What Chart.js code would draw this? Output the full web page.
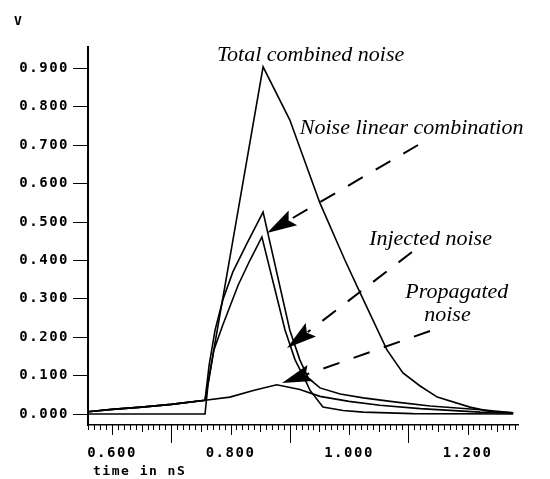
<!DOCTYPE html>
<html><head><meta charset="utf-8">
<script src="https://cdn.jsdelivr.net/npm/chart.js@4"></script>
<style>html,body{margin:0;padding:0;background:#fff;}</style>
</head><body>
<canvas id="c" width="550" height="479"></canvas>
<script>
// ---- data (time in ns, voltage in V) ----
const totalTime = [0.559, 0.600, 0.650, 0.700, 0.757, 0.803, 0.855, 0.900, 0.951, 0.993, 1.019, 1.064, 1.091, 1.120, 1.149, 1.204, 1.243, 1.277];
const totalV    = [0.006, 0.012, 0.018, 0.025, 0.036, 0.443, 0.904, 0.766, 0.549, 0.401, 0.315, 0.167, 0.107, 0.073, 0.044, 0.018, 0.005, 0.003];

const linTime = [0.559, 0.600, 0.650, 0.700, 0.757, 0.764, 0.774, 0.787, 0.804, 0.828, 0.855, 0.900, 0.917, 0.931, 0.951, 0.985, 1.024, 1.080, 1.137, 1.233, 1.277];
const linV    = [0.006, 0.012, 0.018, 0.025, 0.036, 0.128, 0.219, 0.297, 0.370, 0.445, 0.526, 0.219, 0.141, 0.094, 0.068, 0.052, 0.042, 0.031, 0.021, 0.010, 0.003];

const injTime = [0.559, 0.757, 0.762, 0.772, 0.787, 0.813, 0.833, 0.853, 0.892, 0.909, 0.926, 0.934, 0.956, 0.990, 1.024, 1.108, 1.277];
const injV    = [0.000, 0.000, 0.076, 0.167, 0.232, 0.336, 0.401, 0.461, 0.219, 0.141, 0.089, 0.062, 0.018, 0.009, 0.005, 0.001, 0.000];

const propTime = [0.559, 0.600, 0.650, 0.700, 0.757, 0.799, 0.840, 0.878, 0.917, 0.951, 1.000, 1.052, 1.120, 1.221, 1.277];
const propV    = [0.006, 0.012, 0.018, 0.025, 0.036, 0.044, 0.062, 0.076, 0.064, 0.046, 0.033, 0.023, 0.014, 0.005, 0.003];

const xTickValues = [0.6, 0.8, 1.0, 1.2];
const xTickLabels = ['0.600', '0.800', '1.000', '1.200'];
const yTickValues = [0, 0.1, 0.2, 0.3, 0.4, 0.5, 0.6, 0.7, 0.8, 0.9];
const yTickLabels = ['0.000', '0.100', '0.200', '0.300', '0.400', '0.500', '0.600', '0.700', '0.800', '0.900'];

const yUnit = 'V';
const xTitle = 'time in nS';

// annotations (anchored in data coordinates)
const labels = [
  { text: 'Total combined noise', x: 0.777, y: 0.919 },
  { text: 'Noise linear combination', x: 0.917, y: 0.729 },
  { text: 'Injected noise', x: 1.034, y: 0.440 },
  { text: 'Propagated', x: 1.095, y: 0.302 },
  { text: 'noise', x: 1.127, y: 0.242 }
];
const arrows = [
  { from: [1.1165, 0.7005], to: [0.8616, 0.4714] },
  { from: [1.1063, 0.4219], to: [0.8954, 0.1719] },
  { from: [1.1367, 0.2161], to: [0.8869, 0.0807] }
];

const pts = (t, v) => t.map((x, i) => ({ x: x, y: v[i] }));
const ds = (label, t, v) => ({
  label, data: pts(t, v), borderColor: '#000', borderWidth: 1.6,
  pointRadius: 0, tension: 0, fill: false
});

const MONO = 'DejaVu Sans Mono';

const decor = {
  id: 'decor',
  beforeDraw(chart) {
    const ctx = chart.ctx;
    ctx.save(); ctx.fillStyle = '#fff'; ctx.fillRect(0, 0, chart.width, chart.height); ctx.restore();
    ctx.letterSpacing = '1.5px';
  },
  afterDraw(chart) {
    const ctx = chart.ctx, xs = chart.scales.x, ys = chart.scales.y;
    ctx.save();
    ctx.strokeStyle = '#000'; ctx.fillStyle = '#000'; ctx.lineWidth = 1;
    // x-axis tick marks (every 0.01)
    const y0 = xs.top;
    for (let i = 56; i <= 128; i++) {
      const px = Math.round(xs.getPixelForValue(i / 100)) + 0.5;
      let len = 5;
      if (i % 10 === 0) len = ((i / 10) % 2 === 0) ? 10 : 18;
      else if (i % 5 === 0) len = 7;
      ctx.beginPath(); ctx.moveTo(px, y0); ctx.lineTo(px, y0 + len); ctx.stroke();
    }
    // unit and axis title
    ctx.letterSpacing = '1.5px';
    ctx.font = 'bold 13px "' + MONO + '"';
    ctx.textBaseline = 'middle'; ctx.textAlign = 'left';
    ctx.fillText(yUnit, 14, 22);
    ctx.fillText(xTitle, 93, 472);
    // annotations
    ctx.letterSpacing = '0px';
    ctx.font = 'italic 22px "Liberation Serif"';
    ctx.textBaseline = 'alphabetic';
    labels.forEach(l => ctx.fillText(l.text, xs.getPixelForValue(l.x), ys.getPixelForValue(l.y)));
    // dashed arrows
    arrows.forEach(a => {
      const x1 = xs.getPixelForValue(a.from[0]), y1 = ys.getPixelForValue(a.from[1]);
      const x2 = xs.getPixelForValue(a.to[0]), y2 = ys.getPixelForValue(a.to[1]);
      const dx = x2 - x1, dy = y2 - y1, L = Math.hypot(dx, dy);
      const ux = dx / L, uy = dy / L, nx = -uy, ny = ux;
      const headLen = 30, half = 8.5;
      const bx = x2 - ux * headLen, by = y2 - uy * headLen;
      ctx.setLineDash([17, 15]); ctx.lineWidth = 2;
      ctx.beginPath(); ctx.moveTo(x1, y1); ctx.lineTo(bx + ux * 4, by + uy * 4); ctx.stroke();
      ctx.setLineDash([]);
      ctx.beginPath();
      ctx.moveTo(x2, y2);
      ctx.lineTo(bx + nx * half, by + ny * half);
      ctx.lineTo(x2 - ux * (headLen - 5), y2 - uy * (headLen - 5));
      ctx.lineTo(bx - nx * half, by - ny * half);
      ctx.closePath(); ctx.fill();
    });
    ctx.restore();
  }
};

new Chart(document.getElementById('c'), {
  type: 'line',
  data: {
    datasets: [
      ds('Total combined noise', totalTime, totalV),
      ds('Noise linear combination', linTime, linV),
      ds('Injected noise', injTime, injV),
      ds('Propagated noise', propTime, propV)
    ]
  },
  options: {
    responsive: false, animation: false, devicePixelRatio: 1,
    layout: { padding: { top: 47, right: 32, left: 0, bottom: 0 } },
    plugins: { legend: { display: false }, tooltip: { enabled: false } },
    scales: {
      x: {
        type: 'linear', min: 0.5595, max: 1.2852,
        afterBuildTicks: s => { s.ticks = xTickValues.map(v => ({ value: v })); },
        afterFit: s => { s.height = 54; },
        ticks: {
          color: '#000', padding: 2, maxRotation: 0, autoSkip: false,
          font: { family: MONO, size: 14, weight: 'bold' },
          callback: v => { const i = xTickValues.findIndex(t => Math.abs(t - v) < 1e-9); return i >= 0 ? xTickLabels[i] : ''; }
        },
        grid: { drawOnChartArea: false, drawTicks: true, tickLength: 18, color: 'rgba(0,0,0,0)' },
        border: { display: true, color: '#000', width: 1.5 }
      },
      y: {
        type: 'linear', min: -0.0286, max: 0.9557,
        afterBuildTicks: s => { s.ticks = yTickValues.map(v => ({ value: v })); },
        afterFit: s => { s.width = 88; },
        ticks: {
          color: '#000', padding: 4, autoSkip: false,
          font: { family: MONO, size: 14, weight: 'bold' },
          callback: v => { const i = yTickValues.findIndex(t => Math.abs(t - v) < 1e-9); return i >= 0 ? yTickLabels[i] : ''; }
        },
        grid: { drawOnChartArea: false, drawTicks: true, tickLength: 15, color: '#000', lineWidth: 1 },
        border: { display: true, color: '#000', width: 2 }
      }
    }
  },
  plugins: [decor]
});
</script>
</body></html>
